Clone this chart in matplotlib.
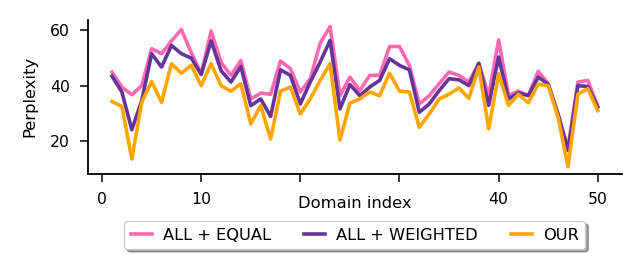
import matplotlib
matplotlib.use("Agg")
import matplotlib.pyplot as plt
import numpy as np

domains = list(range(1, 51))

all_equal = [45.0, 39.6, 36.8, 40.1, 53.4, 51.6, 56.2, 60.3, 52.0, 44.4,
             59.8, 48.5, 43.8, 49.2, 35.3, 37.4, 37.0, 49.0, 46.2, 37.8,
             42.6, 55.4, 61.4, 36.5, 43.2, 38.3, 43.8, 43.8, 54.2, 54.2,
             47.4, 33.5, 36.5, 40.8, 45.0, 43.8, 41.4, 48.2, 36.5, 56.6,
             36.5, 38.1, 36.5, 45.3, 40.8, 29.3, 17.9, 41.4, 42.0, 32.6]

all_weighted = [43.5, 37.8, 24.2, 34.7, 51.6, 46.8, 54.6, 51.6, 50.0, 44.1,
                56.2, 45.5, 41.4, 47.0, 32.9, 35.3, 29.0, 45.8, 43.8, 33.5,
                41.4, 48.6, 56.4, 31.7, 40.5, 36.5, 39.6, 42.0, 49.8, 47.4,
                45.8, 30.5, 33.5, 38.3, 42.6, 42.2, 40.1, 48.1, 33.0, 50.4,
                35.3, 37.5, 36.5, 43.2, 40.6, 29.9, 16.7, 40.1, 39.8, 32.4]

ours = [34.4, 32.6, 13.7, 34.1, 41.6, 34.1, 48.0, 44.6, 47.4, 40.1,
        48.0, 40.1, 38.1, 40.8, 26.3, 32.9, 20.9, 38.1, 39.6, 29.9,
        35.3, 42.0, 48.0, 20.5, 33.8, 35.3, 37.8, 36.5, 44.6, 38.1,
        37.8, 25.1, 29.9, 35.3, 37.0, 39.3, 35.5, 46.8, 24.5, 44.4,
        33.0, 37.0, 33.9, 40.6, 40.1, 28.7, 10.9, 37.0, 39.0, 31.1]

series_labels = ["ALL + EQUAL", "ALL + WEIGHTED", "OUR"]
xtick_values = [0, 10, 20, 30, 40, 50]
xtick_labels = ["0", "10", "", "", "40", "50"]
ytick_values = [20, 40, 60]

colors = ["#FF69B4", "#663399", "#FFA500"]

fig = plt.figure(figsize=(6.43, 2.71), dpi=100)
ax = fig.add_axes([0.1364, 0.359, 0.831, 0.569])

for vals, lab, c in zip([all_equal, all_weighted, ours], series_labels, colors):
    ax.plot(domains, vals, color=c, linewidth=2.6, label=lab)

ax.set_xticks(xtick_values)
ax.set_xticklabels(xtick_labels)
ax.set_yticks(ytick_values)
ax.tick_params(labelsize=11.3, length=6, width=1.1, pad=7)
for s in ["left", "bottom"]:
    ax.spines[s].set_linewidth(1.3)
ax.spines["top"].set_visible(False)
ax.spines["right"].set_visible(False)
ax.set_ylabel("Perplexity", fontsize=11.8, labelpad=9)
ax.set_xlabel("Domain index", fontsize=11.8, labelpad=-8)

ax.legend(loc="upper center", bbox_to_anchor=(0.5, -0.307), ncol=3,
          shadow=True, fancybox=True, fontsize=11.7, handlelength=1.3,
          handletextpad=0.7, columnspacing=2.0, borderaxespad=0)

fig.savefig("out.png", dpi=100)
